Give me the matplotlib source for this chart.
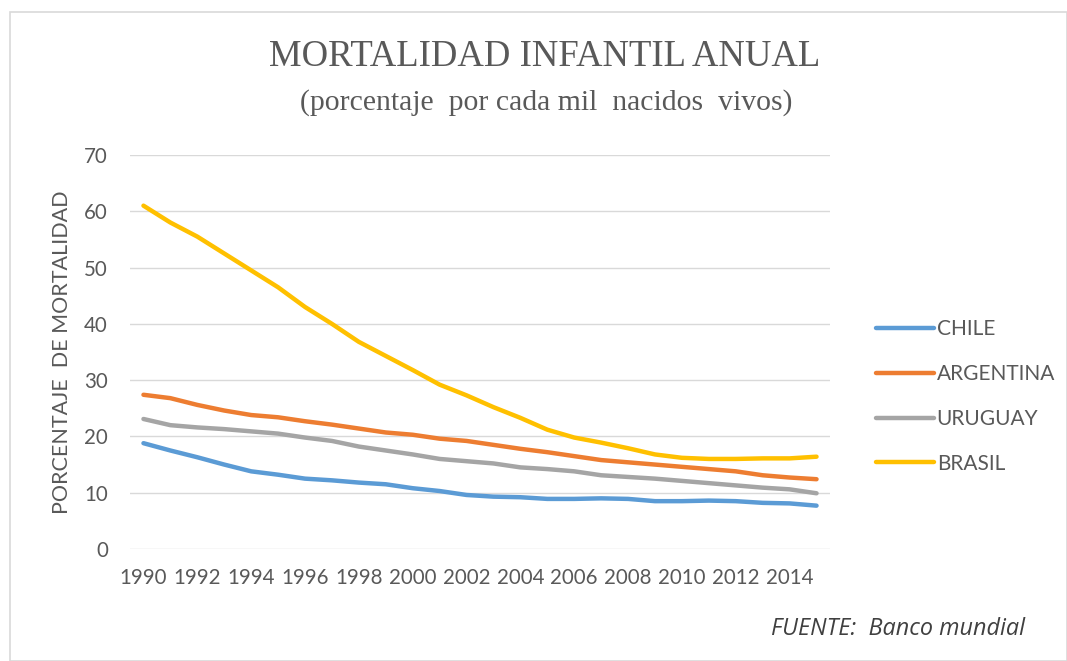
import matplotlib
matplotlib.use("Agg")
import matplotlib.pyplot as plt
from matplotlib.patches import Rectangle

years = list(range(1990, 2016))
chile = [18.8, 17.5, 16.3, 15.0, 13.8, 13.2, 12.5, 12.2, 11.8, 11.5, 10.8, 10.3, 9.6,
         9.3, 9.2, 8.9, 8.9, 9.0, 8.9, 8.5, 8.5, 8.6, 8.5, 8.2, 8.1, 7.7]
argentina = [27.4, 26.8, 25.6, 24.6, 23.8, 23.4, 22.7, 22.1, 21.4, 20.7, 20.3, 19.6, 19.2,
             18.5, 17.8, 17.2, 16.5, 15.8, 15.4, 15.0, 14.6, 14.2, 13.8, 13.1, 12.7, 12.4]
uruguay = [23.1, 22.0, 21.6, 21.3, 20.9, 20.5, 19.8, 19.2, 18.2, 17.5, 16.8, 16.0, 15.6,
           15.2, 14.5, 14.2, 13.8, 13.1, 12.8, 12.5, 12.1, 11.7, 11.3, 10.9, 10.6, 9.9]
brasil = [61.0, 58.0, 55.5, 52.5, 49.5, 46.5, 43.0, 40.0, 36.8, 34.3, 31.8, 29.2, 27.3,
          25.2, 23.3, 21.2, 19.8, 18.9, 17.9, 16.8, 16.2, 16.0, 16.0, 16.1, 16.1, 16.4]
series_names = ["CHILE", "ARGENTINA", "URUGUAY", "BRASIL"]
colors = ["#5B9BD5", "#ED7D31", "#A5A5A5", "#FFC000"]
yticks = [0, 10, 20, 30, 40, 50, 60, 70]

W, H = 1067, 661
fig = plt.figure(figsize=(W / 100, H / 100), dpi=100)
fig.patch.set_facecolor("white")

# outer chart border
fig.add_artist(Rectangle((10 / W, 0), 1 - 10 / W, (H - 12) / H, transform=fig.transFigure,
                         fill=False, edgecolor="#D9D9D9", linewidth=1.2))

ax = fig.add_axes([130 / W, 112 / H, 700 / W, 394 / H])
idx = list(range(len(years)))
for vals, name, c in zip([chile, argentina, uruguay, brasil], series_names, colors):
    ax.plot(idx, vals, color=c, linewidth=3.2, label=name, solid_capstyle="round")

ax.set_xlim(-0.5, len(years) - 0.5)
ax.set_ylim(0, 70)
ax.set_yticks(yticks)
ax.set_yticklabels([str(v) for v in yticks])
ax.set_xticks(idx[::2])
ax.set_xticklabels([str(y) for y in years[::2]])
ax.grid(axis="y", color="#D9D9D9", linewidth=1.0)
ax.set_axisbelow(True)
for s in ax.spines.values():
    s.set_visible(False)
ax.tick_params(axis="both", length=0, labelsize=14.8, labelcolor="#595959")
ax.tick_params(axis="y", pad=16)
ax.tick_params(axis="x", pad=14)
for lab in ax.get_xticklabels() + ax.get_yticklabels():
    lab.set_fontfamily("Lato")

fig.text(62 / W, 1 - 352 / H, "PORCENTAJE  DE MORTALIDAD", rotation=90, ha="center",
         va="center", fontsize=15.5, color="#595959", family="Lato")

fig.text(545 / W, 1 - 57 / H, "MORTALIDAD INFANTIL ANUAL", ha="center", va="center",
         fontsize=26.5, color="#595959", family="Liberation Serif")
fig.text(546 / W, 1 - 103 / H, "(porcentaje  por cada mil  nacidos  vivos)", ha="center",
         va="center", fontsize=21.4, color="#595959", family="Liberation Serif")

leg = ax.legend(loc="upper left", bbox_to_anchor=(868 / W, 1 - 311 / H),
                bbox_transform=fig.transFigure, frameon=False,
                prop={"family": "Lato", "size": 15}, handlelength=2.75,
                handletextpad=0.15, labelspacing=1.19, borderaxespad=0)
for t in leg.get_texts():
    t.set_color("#595959")
for l in leg.get_lines():
    l.set_linewidth(3.2)

fig.text(1025 / W, 1 - 629 / H, "FUENTE:  Banco mundial", ha="right", va="center",
         fontsize=16.8, style="italic", color="#404040", family="Open Sans")

fig.savefig("out.png", dpi=100)
